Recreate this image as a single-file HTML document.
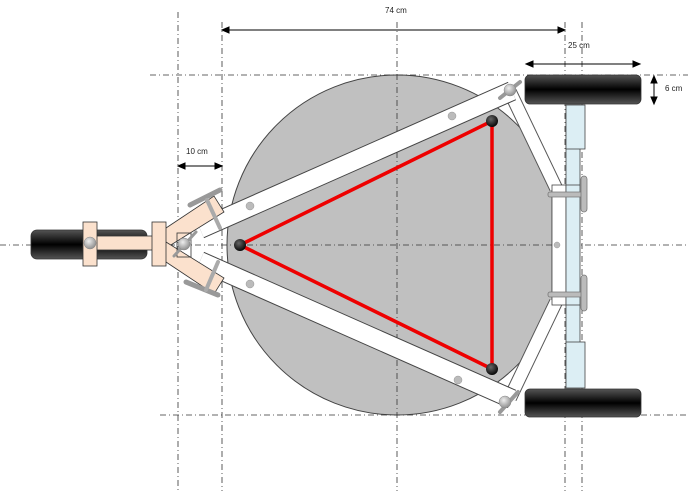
<!DOCTYPE html>
<html><head><meta charset="utf-8"><style>
html,body{margin:0;padding:0;background:#fff}
svg{display:block}
text{font-family:"Liberation Sans",sans-serif;font-size:8px;fill:#222}
</style></head><body>
<svg width="688" height="491" viewBox="0 0 688 491" xmlns="http://www.w3.org/2000/svg">
<defs>
<linearGradient id="tire" x1="0" y1="0" x2="0" y2="1">
<stop offset="0" stop-color="#555"/><stop offset="0.5" stop-color="#000"/><stop offset="1" stop-color="#555"/>
</linearGradient>
<radialGradient id="ball" cx="0.4" cy="0.35" r="0.7"><stop offset="0" stop-color="#eee"/><stop offset="1" stop-color="#888"/></radialGradient>
<radialGradient id="bd" cx="0.4" cy="0.35" r="0.7"><stop offset="0" stop-color="#666"/><stop offset="1" stop-color="#000"/></radialGradient>
<clipPath id="cp"><polygon points="0,0 505,0 552,185 552,305 505,491 0,491"/></clipPath>
</defs>
<!-- grey disc -->
<circle cx="397" cy="245" r="170" fill="#c0c0c0" stroke="#444" stroke-width="1" clip-path="url(#cp)"/>
<polyline points="505,90 552,185 552,305 505,400" fill="none" stroke="#444" stroke-width="1"/>
<!-- dash-dot guide lines -->
<g stroke="#333" stroke-width="0.8" stroke-dasharray="6,3,1,3" fill="none">
<line x1="178" y1="12" x2="178" y2="491"/>
<line x1="222" y1="22" x2="222" y2="491"/>
<line x1="397" y1="22" x2="397" y2="491"/>
<line x1="565" y1="22" x2="565" y2="491"/>
<line x1="582" y1="22" x2="582" y2="491"/>
<line x1="150" y1="75" x2="688" y2="75"/>
<line x1="0" y1="245" x2="688" y2="245"/>
<line x1="160" y1="415" x2="688" y2="415"/>
</g>
<!-- right frame bars -->
<g stroke-linecap="butt">
<line x1="510" y1="92" x2="556" y2="188" stroke="#555" stroke-width="14"/>
<line x1="510" y1="92" x2="556" y2="188" stroke="#fff" stroke-width="12"/>
<line x1="510" y1="398" x2="556" y2="302" stroke="#555" stroke-width="14"/>
<line x1="510" y1="398" x2="556" y2="302" stroke="#fff" stroke-width="12"/>
</g>
<rect x="552" y="185" width="14" height="120" fill="#fff" stroke="#444" stroke-width="0.8"/>
<!-- main bars -->
<line x1="200" y1="229" x2="512" y2="91" stroke="#444" stroke-width="20"/>
<line x1="200" y1="229" x2="512" y2="91" stroke="#fff" stroke-width="18"/>
<line x1="200" y1="261" x2="512" y2="399" stroke="#444" stroke-width="20"/>
<line x1="200" y1="261" x2="512" y2="399" stroke="#fff" stroke-width="18"/>
<g fill="#bbb" stroke="#999" stroke-width="0.5">
<circle cx="250" cy="206" r="4"/><circle cx="452" cy="116" r="4"/>
<circle cx="250" cy="284" r="4"/><circle cx="458" cy="380" r="4"/>
<circle cx="557" cy="245" r="3"/>
</g>
<!-- red triangle -->
<polygon points="240,245 492,121 492,369" fill="none" stroke="#e00" stroke-width="3.5" stroke-linejoin="round"/>
<circle cx="240" cy="245" r="6" fill="url(#bd)"/>
<circle cx="492" cy="121" r="6" fill="url(#bd)"/>
<circle cx="492" cy="369" r="6" fill="url(#bd)"/>
<!-- axle -->
<rect x="566" y="105" width="14" height="283" fill="#dceef4" stroke="#444" stroke-width="0.8"/>
<rect x="566" y="105" width="19" height="44" fill="#dceef4" stroke="#444" stroke-width="0.8"/>
<rect x="566" y="342" width="19" height="46" fill="#dceef4" stroke="#444" stroke-width="0.8"/>
<line x1="566" y1="185" x2="580" y2="185" stroke="#444" stroke-width="0.8"/>
<line x1="566" y1="305" x2="580" y2="305" stroke="#444" stroke-width="0.8"/>
<!-- handles -->
<g fill="#bbb" stroke="#777" stroke-width="0.8">
<rect x="548" y="192" width="38" height="5" rx="2"/>
<rect x="581" y="176" width="6" height="36" rx="3"/>
<rect x="548" y="292" width="38" height="5" rx="2"/>
<rect x="581" y="275" width="6" height="36" rx="3"/>
</g>
<!-- wheels -->
<rect x="525" y="75" width="116" height="29" rx="5" fill="url(#tire)" stroke="#333" stroke-width="0.8"/>
<rect x="525" y="389" width="116" height="28" rx="5" fill="url(#tire)" stroke="#333" stroke-width="0.8"/>
<rect x="31" y="230" width="116" height="29" rx="6" fill="url(#tire)" stroke="#333" stroke-width="0.8"/>
<!-- corner joints -->
<g>
<line x1="500" y1="98" x2="520" y2="82" stroke="#999" stroke-width="4" stroke-linecap="round"/>
<circle cx="510" cy="90" r="6" fill="url(#ball)" stroke="#888" stroke-width="0.5"/>
<line x1="500" y1="412" x2="518" y2="392" stroke="#999" stroke-width="4" stroke-linecap="round"/>
<circle cx="505" cy="402" r="6" fill="url(#ball)" stroke="#888" stroke-width="0.5"/>
</g>
<!-- hitch (peach) -->
<g fill="#fbe1cd" stroke="#333" stroke-width="0.8">
<polygon points="160,232 214,196 224,212 166,248"/>
<polygon points="160,258 214,294 224,278 166,242"/>
<rect x="83" y="236" width="82" height="14"/>
<rect x="83" y="222" width="14" height="44"/>
<rect x="152" y="222" width="14" height="44"/>
</g>
<g fill="#bbb" stroke="#777" stroke-width="0.8">
<line x1="190" y1="205" x2="220" y2="190" stroke="#999" stroke-width="5" stroke-linecap="round"/>
<line x1="207" y1="200" x2="220" y2="228" stroke="#aaa" stroke-width="4" stroke-linecap="round"/>
<line x1="186" y1="282" x2="218" y2="295" stroke="#999" stroke-width="5" stroke-linecap="round"/>
<line x1="206" y1="290" x2="218" y2="262" stroke="#aaa" stroke-width="4" stroke-linecap="round"/>
</g>
<rect x="177" y="233" width="14" height="24" fill="none" stroke="#333" stroke-width="0.8"/>
<line x1="174" y1="256" x2="196" y2="232" stroke="#999" stroke-width="3" stroke-linecap="round"/>
<circle cx="184" cy="244" r="6" fill="url(#ball)" stroke="#888" stroke-width="0.5"/>
<circle cx="90" cy="243" r="6" fill="url(#ball)" stroke="#888" stroke-width="0.5"/>
<!-- dimensions -->
<g stroke="#000" stroke-width="1">
<line x1="225" y1="30" x2="562" y2="30"/>
<polygon points="222,30 229,27 229,33" fill="#000"/>
<polygon points="565,30 558,27 558,33" fill="#000"/>
<line x1="529" y1="64" x2="637" y2="64"/>
<polygon points="526,64 533,61 533,67" fill="#000"/>
<polygon points="640,64 633,61 633,67" fill="#000"/>
<line x1="654" y1="79" x2="654" y2="101"/>
<polygon points="654,76 651,83 657,83" fill="#000"/>
<polygon points="654,104 651,97 657,97" fill="#000"/>
<line x1="181" y1="166" x2="219" y2="166"/>
<polygon points="178,166 185,163 185,169" fill="#000"/>
<polygon points="222,166 215,163 215,169" fill="#000"/>
</g>
<text x="385" y="13">74 cm</text>
<text x="568" y="48">25 cm</text>
<text x="665" y="91">6 cm</text>
<text x="186" y="154">10 cm</text>
</svg>
</body></html>
